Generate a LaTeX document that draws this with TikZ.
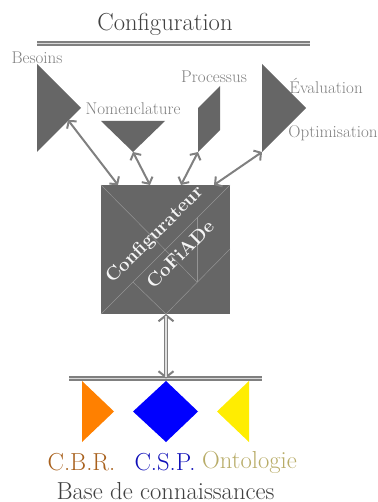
\documentclass[tikz,border=0pt]{standalone}
\usepackage{fontspec}
\setmainfont{Latin Modern Roman}
\usetikzlibrary{arrows.meta}
\definecolor{shp}{HTML}{666666}
\definecolor{cbr}{HTML}{A8601C}
\definecolor{csp}{HTML}{1010B8}
\definecolor{onto}{HTML}{B8AC68}
\tikzset{
  x=1pt,y=-1pt,
  shapefill/.style={fill=shp,draw=none},
  rulerline/.style={draw=gray,double=white!70!gray,line width=2pt,double distance=1.3pt},
  link/.style={draw=gray,line width=2pt,{Straight Barb[length=5pt,width=12pt]}-{Straight Barb[length=5pt,width=12pt]}},
  vlink/.style={draw=gray,line width=2pt,{Straight Barb[length=6pt,width=15pt]}-{Straight Barb[length=6pt,width=15pt]}},
  dlink/.style={draw=gray,double=white!75!gray,line width=1.2pt,double distance=1.3pt,shorten >=1.5pt,shorten <=1.5pt},
  tang/.style={draw=white!30!shp,line width=.5pt},
  lab/.style={text=gray,font=\fontsize{17}{19}\selectfont,inner sep=0pt},
  base/.style={font=\fontsize{24.6}{28}\selectfont,inner sep=0pt},
  inner/.style={text=white!92!gray,font=\fontsize{18.8}{21}\bfseries\selectfont,inner sep=0pt,rotate=45}
}
\begin{document}
\begin{tikzpicture}
\useasboundingbox (0,0) rectangle (377,502);
\coordinate (tl) at (101,185);\coordinate (tr) at (230,185);
\coordinate (bl) at (101,314);\coordinate (br) at (230,314);
\coordinate (bm) at (166,314);\coordinate (rm) at (230,249);
\coordinate (dm) at (133,282);\coordinate (dt) at (197,217);\coordinate (dc) at (197,282);
\coordinate (r1a) at (37,43.5);\coordinate (r1b) at (310,43.5);
\coordinate (r2a) at (69,378.5);\coordinate (r2b) at (262,378.5);
\coordinate (r2m) at (166,378.5);
\draw[rulerline] (r1a) -- (r1b);
\draw[rulerline] (r2a) -- (r2b);
\node[base,text=black!75] (ttl) at (165,24.5) {Configuration};
\fill[shapefill] (37,64) -- (81,108) -- (37,152) -- cycle;
\fill[shapefill] (101,121) -- (165,121) -- (133,152) -- cycle;
\fill[shapefill] (198,108) -- (220,86) -- (220,130) -- (198,152) -- cycle;
\fill[shapefill] (262,64) -- (306,108) -- (262,152) -- cycle;
\coordinate (besA) at (68,120);\coordinate (nomA) at (133,152);
\coordinate (proA) at (198,152);\coordinate (evaA) at (262,152);
\coordinate (sq1) at (118,185);\coordinate (sq2) at (150,185);
\coordinate (sq3) at (181,185);\coordinate (sq4) at (214,185);
\node[lab] (l1) at (37,57.5) {Besoins};
\node[lab] (l2) at (133,108.5) {Nomenclature};
\node[lab] (l3) at (214,76.5) {Processus};
\node[lab] (l4) at (326,85.5) {Évaluation};
\node[lab] (l5) at (333,133.5) {Optimisation};
\fill[shapefill] (tl) rectangle (br);
\draw[tang] (bl) -- (tr);
\draw[tang] (tl) -- (dc);
\draw[tang] (dt) -- (dc);
\draw[tang] (dm) -- (bm) -- (rm);
\node[inner] (c1) at (155,235) {Configurateur};
\node[inner] (c2) at (180,254) {CoFiADe};
\draw[link] (besA) -- (sq1);
\draw[link] (nomA) -- (sq2);
\draw[link] (proA) -- (sq3);
\draw[link] (evaA) -- (sq4);
\draw[vlink] (bm) -- (r2m);
\draw[dlink] (bm) -- (r2m);
\fill[fill=orange] (82,381) -- (114,411.5) -- (82,442) -- cycle;
\fill[blue] (166,381) -- (198,411.5) -- (166,442) -- (133,411.5) -- cycle;
\fill[yellow!95!orange] (249,381) -- (217,411.5) -- (249,442) -- cycle;
\node[base,text=cbr] (t1) at (81.5,462) {C.B.R.};
\node[base,text=csp] (t2) at (165,462) {C.S.P.};
\node[base,text=onto] (t3) at (249.5,462) {Ontologie};
\node[base,text=black!75] (t4) at (165.5,491.5) {Base de connaissances};
\end{tikzpicture}
\end{document}
